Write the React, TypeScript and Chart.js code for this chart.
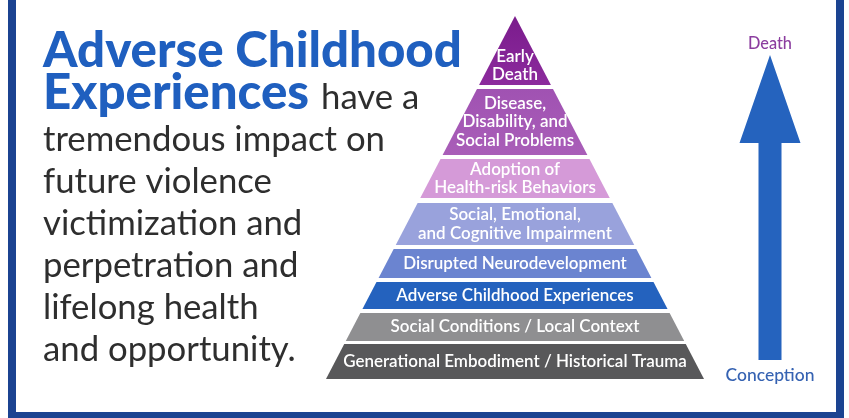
import React, { useEffect, useRef } from "react";
import { Chart, registerables } from "chart.js";

Chart.register(...registerables);

// ---- data ----
const layerLabels: string[][] = [
  ["Generational Embodiment / Historical Trauma"],
  ["Social Conditions / Local Context"],
  ["Adverse Childhood Experiences"],
  ["Disrupted Neurodevelopment"],
  ["Social, Emotional,", "and Cognitive Impairment"],
  ["Adoption of", "Health-risk Behaviors"],
  ["Disease,", "Disability, and", "Social Problems"],
  ["Early", "Death"],
];
// layer extents in height units above the pyramid base
const layerBottom = [0, 38, 70, 101, 134, 181, 224, 294];
const layerTop = [35, 66, 97, 130, 176, 220, 290, 363];
const headingLines = ["Adverse Childhood", "Experiences"];
const bodyLines = [
  "have a",
  "tremendous impact on",
  "future violence",
  "victimization and",
  "perpetration and",
  "lifelong health",
  "and opportunity.",
];
const timelineLabels = ["Conception", "Death"];
const timelineSpan = [19, 324]; // arrow start (conception) and tip (death) heights

// ---- styles / layout ----
const layerColors = [
  "#58585a",
  "#8f8f91",
  "#2462be",
  "#6b84d0",
  "#99a2dc",
  "#d59ad8",
  "#a95eb8",
  "#8c2b9d",
];
const layerTopColors = [
  "#58585a",
  "#8f8f91",
  "#2462be",
  "#6b84d0",
  "#99a2dc",
  "#d59ad8",
  "#a052b2",
  "#7a1b8c",
];
const APEX = 363;
const BASE_HALF = 189;
const ARROW_X = 255;
const HEAD_BASE = 236;
const HEAD_HALF = 30.5;
const SHAFT_HALF = 11.5;
const FRAME = "#1b4391";
const HEADING_BLUE = "#1f5fbf";
const BODY_COLOR = "#2e2e2e";

const halfWidth = (h: number) => BASE_HALF * (1 - h / APEX);

function fit(ctx: CanvasRenderingContext2D, text: string, weight: string, family: string, target: number) {
  ctx.font = `${weight} 20px ${family}`;
  const w = ctx.measureText(text).width;
  return (20 * target) / w;
}

const textPlugin = {
  id: "infographicText",
  afterDatasetsDraw(chart: any) {
    const ctx: CanvasRenderingContext2D = chart.ctx;
    const xs = chart.scales.x;
    const ys = chart.scales.y;
    ctx.save();

    // frame
    ctx.fillStyle = FRAME;
    ctx.fillRect(8, 0, 8, 418);
    ctx.fillRect(836, 0, 8, 418);
    ctx.fillRect(8, 412, 836, 6);

    // heading
    const fam = "Lato, 'Open Sans', sans-serif";
    const hs = fit(ctx, headingLines[0], "900", fam, 419);
    ctx.font = `900 ${hs}px ${fam}`;
    ctx.fillStyle = HEADING_BLUE;
    ctx.textAlign = "left";
    ctx.textBaseline = "alphabetic";
    ctx.fillText(headingLines[0], 43, 67);
    ctx.fillText(headingLines[1], 43, 109);
    const expW = ctx.measureText(headingLines[1]).width;

    // body text
    const bs = fit(ctx, bodyLines[1], "400", fam, 342);
    ctx.font = `400 ${bs}px ${fam}`;
    ctx.fillStyle = BODY_COLOR;
    ctx.fillText(bodyLines[0], Math.max(43 + expW + 12, 318), 109);
    for (let i = 1; i < bodyLines.length; i++) {
      ctx.fillText(bodyLines[i], 43, 109 + 42 * i);
    }

    // pyramid labels
    const ls = fit(ctx, layerLabels[0][0], "600", fam, 344);
    ctx.font = `600 ${ls}px ${fam}`;
    ctx.fillStyle = "#ffffff";
    ctx.textAlign = "center";
    ctx.textBaseline = "middle";
    const cx = xs.getPixelForValue(0);
    const lh = 18.5;
    layerLabels.forEach((lines, i) => {
      const b = layerBottom[i];
      const t = layerTop[i];
      const isApex = t >= APEX;
      const mid = isApex ? b + (t - b) * 0.28 : (b + t) / 2;
      const cy = ys.getPixelForValue(mid);
      lines.forEach((ln, j) => {
        ctx.fillText(ln, cx, cy + (j - (lines.length - 1) / 2) * lh);
      });
    });

    // arrow labels
    const ax = xs.getPixelForValue(ARROW_X);
    const ds = fit(ctx, timelineLabels[1], "500", fam, 44);
    ctx.font = `500 ${ds}px ${fam}`;
    ctx.fillStyle = "#8b3d9f";
    ctx.fillText(timelineLabels[1], ax, ys.getPixelForValue(timelineSpan[1]) - 11);
    const cs = fit(ctx, timelineLabels[0], "500", fam, 89);
    ctx.font = `500 ${cs}px ${fam}`;
    ctx.fillStyle = "#3562b2";
    ctx.fillText(timelineLabels[0], ax, ys.getPixelForValue(timelineSpan[0]) + 15);

    ctx.restore();
  },
};

export default function App() {
  const ref = useRef<HTMLCanvasElement | null>(null);

  useEffect(() => {
    if (!ref.current) return;
    const layerSets = layerLabels.map((lines, i) => {
      const b = layerBottom[i];
      const t = layerTop[i];
      const pts = [
        { x: -halfWidth(b), y: b },
        { x: -halfWidth(t), y: t },
        { x: halfWidth(t), y: t },
        { x: halfWidth(b), y: b },
        { x: -halfWidth(b), y: b },
      ];
      return {
        label: lines.join(" "),
        data: pts,
        showLine: true,
        fill: "shape",
        backgroundColor: (c: any) => {
          const ch = c.chart;
          if (!ch.chartArea || layerColors[i] === layerTopColors[i]) return layerColors[i];
          const ys = ch.scales.y;
          const g = ch.ctx.createLinearGradient(0, ys.getPixelForValue(t), 0, ys.getPixelForValue(b));
          g.addColorStop(0, layerTopColors[i]);
          g.addColorStop(1, layerColors[i]);
          return g;
        },
        borderWidth: 0,
        pointRadius: 0,
        tension: 0,
      };
    });
    const [s0, s1] = timelineSpan;
    const arrow = {
      label: `${timelineLabels[0]} → ${timelineLabels[1]}`,
      data: [
        { x: ARROW_X - SHAFT_HALF, y: s0 },
        { x: ARROW_X - SHAFT_HALF, y: HEAD_BASE },
        { x: ARROW_X - HEAD_HALF, y: HEAD_BASE },
        { x: ARROW_X, y: s1 },
        { x: ARROW_X + HEAD_HALF, y: HEAD_BASE },
        { x: ARROW_X + SHAFT_HALF, y: HEAD_BASE },
        { x: ARROW_X + SHAFT_HALF, y: s0 },
        { x: ARROW_X - SHAFT_HALF, y: s0 },
      ],
      showLine: true,
      fill: "shape",
      backgroundColor: "#2563be",
      borderWidth: 0,
      pointRadius: 0,
      tension: 0,
    };
    const chart = new Chart(ref.current, {
      type: "scatter",
      data: { datasets: [...layerSets, arrow] as any },
      options: {
        responsive: false,
        animation: false,
        devicePixelRatio: 1,
        layout: { padding: 0 },
        plugins: { legend: { display: false }, tooltip: { enabled: false } },
        scales: {
          x: { type: "linear", min: -515, max: 334, display: false },
          y: { type: "linear", min: -39, max: 379, display: false },
        },
      },
      plugins: [textPlugin],
    });
    return () => chart.destroy();
  }, []);

  return (
    <div style={{ position: "fixed", left: 0, top: 0, width: 849, height: 418, background: "#fff" }}>
      <canvas ref={ref} width={849} height={418} style={{ display: "block" }} />
    </div>
  );
}
